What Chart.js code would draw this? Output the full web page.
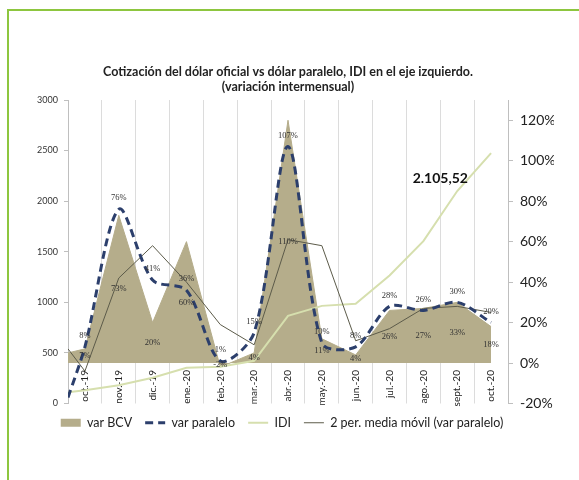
<!DOCTYPE html>
<html>
<head>
<meta charset="utf-8">
<script src="https://cdn.jsdelivr.net/npm/chart.js@4.4.1/dist/chart.umd.min.js"></script>
<style>
  html, body { margin: 0; padding: 0; background: #fff; }
  #frame { position: absolute; left: 7px; top: 9px; width: 600px; height: 500px; border: 2px solid #8dc63f; }
  #wrap { position: absolute; left: 0; top: 0; width: 579px; height: 480px; }
</style>
</head>
<body>
<div id="frame"></div>
<div id="wrap"><canvas id="myChart"></canvas></div>

<script>
    // categories (the series also carry one value at the left edge of the plot, before oct.-19)
    const months = ['oct.-19', 'nov.-19', 'dic.-19', 'ene.-20', 'feb.-20', 'mar.-20', 'abr.-20',
                    'may.-20', 'jun.-20', 'jul.-20', 'ago.-20', 'sept.-20', 'oct.-20'];

    // right axis (%), first value = left edge
    const varBCV      = [5, 7, 73, 20, 60, -2, 5, 120, 12, 4, 26, 27, 30, 18];
    const varParalelo = [-17, 8, 76, 41, 36, 1, 15, 107, 10, 8, 28, 26, 30, 20];
    const mediaMovil  = [7, -4, 42, 58, 40, 19, 9, 61, 58, 11, 17, 27, 28, 25];
    // left axis
    const idi         = [110, 130, 180, 255, 353, 363, 422, 866, 965, 985, 1265, 1605, 2100, 2475];

    // data labels as printed on the chart
    const bcvLabels      = ['7%', '73%', '20%', '60%', '-2%', '4%', '110%', '11%', '4%', '26%', '27%', '33%', '18%'];
    const paraleloLabels = ['8%', '76%', '41%', '36%', '1%', '15%', '107%', '10%', '8%', '28%', '26%', '30%', '20%'];
    const idiNote = '2.105,52';

    const leftTicks  = [0, 500, 1000, 1500, 2000, 2500, 3000];
    const rightTicks = [-20, 0, 20, 40, 60, 80, 100, 120];

    const legendOrder = ['var BCV', 'var paralelo', 'IDI', '2 per. media móvil (var paralelo)'];

    // value i belongs to x = i - 1 (index 0 sits on the left edge)
    const toPoints = vals => vals.map((v, i) => ({ x: i === 0 ? -0.5 : i - 1, y: v }));

    const labelPlugin = {
        id: 'valueLabels',
        afterDatasetsDraw(chart) {
            const { ctx } = chart;
            const xl = chart.scales.xl, yR = chart.scales.yR, yL = chart.scales.yL;
            ctx.save();
            ctx.font = '8.5px "Liberation Serif"';
            ctx.fillStyle = '#333';
            ctx.textAlign = 'center';
            ctx.textBaseline = 'middle';
            const y0 = yR.getPixelForValue(0);
            months.forEach((m, i) => {
                const x = xl.getPixelForValue(i);
                const yb = yR.getPixelForValue(varBCV[i + 1]);
                ctx.fillText(bcvLabels[i], x, (yb + y0) / 2);
                const yp = yR.getPixelForValue(varParalelo[i + 1]);
                ctx.fillText(paraleloLabels[i], x, yp - 11);
            });
            ctx.font = 'bold 14px Lato';
            ctx.fillStyle = '#111';
            ctx.fillText(idiNote, xl.getPixelForValue(10.5), yL.getPixelForValue(2220));
            ctx.restore();
        }
    };

    const ctx = document.getElementById('myChart').getContext('2d');
    const myChart = new Chart(ctx, {
        type: 'line',
        data: {
            labels: months,
            datasets: [
                {
                    label: 'var paralelo',
                    data: toPoints(varParalelo),
                    xAxisID: 'xl',
                    yAxisID: 'yR',
                    borderColor: '#2c3f6c',
                    borderWidth: 3,
                    borderDash: [8, 5],
                    tension: 0.3,
                    pointRadius: 0,
                    fill: false
                },
                {
                    label: '2 per. media móvil (var paralelo)',
                    data: toPoints(mediaMovil),
                    xAxisID: 'xl',
                    yAxisID: 'yR',
                    borderColor: '#5c5b4a',
                    borderWidth: 1,
                    pointRadius: 0,
                    fill: false
                },
                {
                    label: 'IDI',
                    data: toPoints(idi),
                    xAxisID: 'xl',
                    yAxisID: 'yL',
                    borderColor: '#d6dfae',
                    borderWidth: 2,
                    pointRadius: 0,
                    fill: false
                },
                {
                    label: 'var BCV',
                    data: toPoints(varBCV),
                    xAxisID: 'xl',
                    yAxisID: 'yR',
                    borderColor: '#b5ad8b',
                    backgroundColor: '#b5ad8b',
                    borderWidth: 1,
                    pointRadius: 0,
                    fill: 'origin'
                }
            ]
        },
        options: {
            responsive: true,
            maintainAspectRatio: false,
            animation: false,
            layout: { padding: { left: 10, right: 25, top: 0, bottom: 41 } },
            plugins: {
                title: {
                    display: true,
                    fullSize: false,
                    text: ['Cotización del dólar oficial vs dólar paralelo, IDI en el eje izquierdo.',
                           '(variación intermensual)'],
                    font: { family: 'Lato', size: 12.5, weight: 'bold' },
                    color: '#222',
                    lineHeight: 1.15,
                    padding: { top: 64, bottom: 6 }
                },
                legend: {
                    position: 'bottom',
                    labels: {
                        usePointStyle: true,
                        pointStyleWidth: 20,
                        boxHeight: 8,
                        padding: 13,
                        color: '#222',
                        font: { family: 'Lato', size: 12.5 },
                        generateLabels: chart => legendOrder.map(name => {
                            const i = chart.data.datasets.findIndex(d => d.label === name);
                            const d = chart.data.datasets[i];
                            return {
                                text: name,
                                datasetIndex: i,
                                fillStyle: d.backgroundColor || d.borderColor,
                                strokeStyle: d.borderColor,
                                lineWidth: d.fill ? 0 : d.borderWidth,
                                lineDash: d.borderDash || [],
                                pointStyle: d.fill ? 'rect' : 'line',
                                fontColor: '#222',
                                hidden: false
                            };
                        })
                    }
                },
                tooltip: { enabled: false }
            },
            scales: {
                x: {
                    type: 'category',
                    offset: true,
                    position: { yR: 0 },
                    afterFit: s => { s.height = 0; },
                    grid: { offset: true, color: '#dcdcdc', drawTicks: false },
                    border: { display: false },
                    ticks: {
                        autoSkip: false, minRotation: 90, maxRotation: 90, padding: 7,
                        color: '#222', font: { family: 'Lato', size: 10 }
                    }
                },
                xl: { type: 'linear', display: false, min: -0.5, max: 12.5 },
                yL: {
                    position: 'left',
                    min: 0, max: 3000,
                    afterFit: s => { s.width = 58; },
                    afterBuildTicks: s => { s.ticks = leftTicks.map(v => ({ value: v })); },
                    grid: { drawOnChartArea: false, tickLength: 4, color: '#bfbfbf' },
                    border: { color: '#bfbfbf' },
                    ticks: {
                        padding: 6, color: '#333', font: { family: 'Lato', size: 9 },
                        callback: v => String(v)
                    }
                },
                yR: {
                    position: 'right',
                    min: -20, max: 130,
                    afterFit: s => { s.width = 46; },
                    afterBuildTicks: s => { s.ticks = rightTicks.map(v => ({ value: v })); },
                    grid: { drawOnChartArea: false, tickLength: 5, color: '#bfbfbf' },
                    border: { color: '#bfbfbf' },
                    ticks: {
                        padding: 7, color: '#222', font: { family: 'Lato', size: 14 },
                        callback: v => v + '%'
                    }
                }
            }
        },
        plugins: [labelPlugin]
    });
</script>
</body>
</html>
